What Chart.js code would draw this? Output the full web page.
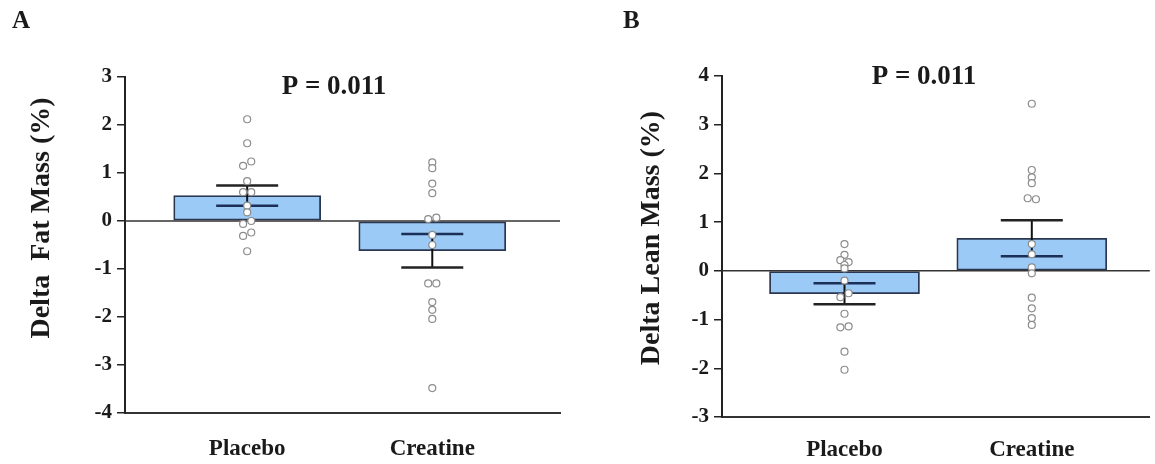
<!DOCTYPE html>
<html>
<head>
<meta charset="utf-8">
<script src="https://cdn.jsdelivr.net/npm/chart.js@4.4.1/dist/chart.umd.min.js"></script>
<style>
    body { margin: 0; background: #fff; }
    #wrap { position: relative; width: 1155px; height: 464px; }
    canvas { position: absolute; top: 0; }
</style>
</head>
<body>
<div id="wrap">
    <canvas id="chartA" width="577" height="464" style="left:0"></canvas>
    <canvas id="chartB" width="578" height="464" style="left:577px"></canvas>
</div>
<script>
var categories = ['Placebo', 'Creatine'];

// panel A: delta fat mass (%)
var fatMean = [0.53, -0.62];
var fatSem = [0.21, 0.35];
var fatPlacebo = [2.12, 1.62, 1.24, 1.15, 0.83, 0.60, 0.60, 0.32, 0.18, 0.00, -0.06, -0.24, -0.31, -0.63];
var fatPlaceboSpread = [0, 0, 0.022, -0.022, 0, -0.022, 0.022, 0, 0, 0.022, -0.022, 0.022, -0.022, 0];
var fatCreatine = [1.22, 1.10, 0.78, 0.58, 0.07, 0.04, -0.29, -0.50, -1.30, -1.30, -1.69, -1.85, -2.04, -3.48];
var fatCreatineSpread = [0, 0, 0, 0, 0.022, -0.022, 0, 0, -0.022, 0.022, 0, 0, 0, 0];

// panel B: delta lean mass (%)
var leanMean = [-0.47, 0.67];
var leanSem = [0.215, 0.37];
var leanPlacebo = [0.55, 0.33, 0.22, 0.18, 0.12, 0.05, -0.20, -0.46, -0.54, -0.88, -1.14, -1.16, -1.66, -2.03];
var leanPlaceboSpread = [0, 0, -0.022, 0.022, 0, 0, 0, 0.022, -0.022, 0, 0.022, -0.022, 0, 0];
var leanCreatine = [3.43, 2.07, 1.92, 1.80, 1.49, 1.47, 0.55, 0.34, 0.07, -0.05, -0.55, -0.77, -0.97, -1.11];
var leanCreatineSpread = [0, 0, 0, 0, -0.022, 0.022, 0, 0, 0, 0, 0, 0, 0, 0];

var SERIF = "'Liberation Serif', 'Times New Roman', serif";
var INK = '#1a1a1a';

function dots(values, spread, pos) {
    return values.map(function (v, i) { return { x: pos + spread[i], y: v }; });
}

var extras = {
    id: 'extras',
    afterDatasetDraw: function (chart, args, opts) {
        if (args.index !== 0) return;
        var ctx = chart.ctx, x = chart.scales.x, y = chart.scales.y, area = chart.chartArea;
        var y0 = y.getPixelForValue(0);
        ctx.save();
        // zero line
        ctx.strokeStyle = '#333';
        ctx.lineWidth = 1.5;
        ctx.beginPath();
        ctx.moveTo(area.left, y0);
        ctx.lineTo(area.right, y0);
        ctx.stroke();
        // mean +/- SE
        opts.mean.forEach(function (m, i) {
            var px = x.getPixelForValue(i + 1);
            var lo = m - opts.sem[i], hi = m + opts.sem[i];
            ctx.strokeStyle = '#111';
            ctx.lineWidth = 2;
            ctx.beginPath();
            ctx.moveTo(px, y.getPixelForValue(lo));
            ctx.lineTo(px, y.getPixelForValue(hi));
            ctx.stroke();
            [lo, hi].forEach(function (v) {
                var inside = (m >= 0) ? (v >= 0 && v <= m) : (v <= 0 && v >= m);
                ctx.strokeStyle = inside ? '#1b2f57' : '#222';
                ctx.lineWidth = 2.5;
                ctx.beginPath();
                ctx.moveTo(px - 31, y.getPixelForValue(v));
                ctx.lineTo(px + 31, y.getPixelForValue(v));
                ctx.stroke();
            });
        });
        ctx.restore();
    },
    afterDraw: function (chart, args, opts) {
        var ctx = chart.ctx, y = chart.scales.y;
        ctx.save();
        // short minor ticks at the half units
        ctx.strokeStyle = '#222';
        ctx.lineWidth = 1.5;
        y.ticks.forEach(function (t) {
            if (Number.isInteger(t.value)) return;
            var py = Math.round(y.getPixelForValue(t.value)) + 0.5;
            ctx.beginPath();
            ctx.moveTo(y.right - 5, py);
            ctx.lineTo(y.right, py);
            ctx.stroke();
        });
        ctx.fillStyle = INK;
        ctx.textBaseline = 'alphabetic';
        ctx.textAlign = 'left';
        ctx.font = 'bold 25px ' + SERIF;
        ctx.fillText(opts.letter, opts.letterX, 28);
        ctx.textAlign = 'center';
        ctx.font = 'bold 27px ' + SERIF;
        ctx.fillText('P = 0.011', opts.pX, opts.pY);
        ctx.translate(opts.titleX, opts.titleY);
        ctx.rotate(-Math.PI / 2);
        ctx.font = 'bold 28px ' + SERIF;
        ctx.textBaseline = 'middle';
        ctx.fillText(opts.title, 0, 0);
        ctx.restore();
    }
};

function buildPanel(canvasId, p) {
    var ctx = document.getElementById(canvasId);
    return new Chart(ctx, {
        type: 'bar',
        data: {
            datasets: [
                {
                    type: 'bar',
                    data: p.mean.map(function (m, i) { return { x: i + 1, y: m }; }),
                    backgroundColor: '#9ccaf6',
                    borderColor: '#2b3650',
                    borderWidth: 1.8,
                    borderSkipped: false,
                    barThickness: p.barWidth,
                    order: 2
                },
                {
                    type: 'scatter',
                    data: dots(p.placebo, p.placeboSpread, 1).concat(dots(p.creatine, p.creatineSpread, 2)),
                    pointRadius: 3.5,
                    pointBackgroundColor: '#fff',
                    pointBorderColor: '#8c8c8c',
                    pointBorderWidth: 1.2,
                    order: 1
                }
            ]
        },
        options: {
            responsive: false,
            animation: false,
            devicePixelRatio: 1,
            layout: { padding: { left: 0, top: p.top, right: p.right, bottom: 0 } },
            plugins: {
                legend: { display: false },
                tooltip: { enabled: false },
                extras: {
                    mean: p.mean, sem: p.sem, letter: p.letter, letterX: p.letterX,
                    pX: p.pX, pY: p.pY, title: p.title, titleX: p.titleX, titleY: p.titleY
                }
            },
            scales: {
                x: {
                    type: 'linear',
                    min: p.xMin,
                    max: p.xMax,
                    offset: false,
                    grid: { display: false, offset: false },
                    border: { display: true, color: '#333', width: 2 },
                    afterBuildTicks: function (axis) {
                        axis.ticks = categories.map(function (c, i) { return { value: i + 1 }; });
                    },
                    afterFit: function (axis) { axis.height = p.xAxisHeight; },
                    ticks: {
                        padding: p.xLabelPad,
                        color: INK,
                        font: { family: SERIF, size: 23, weight: 'bold' },
                        callback: function (v) { return categories[Math.round(v) - 1]; }
                    }
                },
                y: {
                    min: p.yMin,
                    max: p.yMax,
                    afterFit: function (axis) { axis.width = p.yAxisWidth; },
                    grid: {
                        drawOnChartArea: false, drawTicks: true, tickLength: 8, lineWidth: 1.5,
                        tickColor: function (c) { return Number.isInteger(c.tick.value) ? '#222' : 'rgba(0,0,0,0)'; }
                    },
                    border: { display: true, color: '#222', width: 2 },
                    ticks: {
                        stepSize: 0.5,
                        padding: 5,
                        color: INK,
                        font: { family: SERIF, size: 21, weight: 'bold' },
                        callback: function (v) { return Number.isInteger(v) ? String(v) : ''; }
                    }
                }
            }
        },
        plugins: [extras]
    });
}

buildPanel('chartA', {
    mean: fatMean, sem: fatSem,
    placebo: fatPlacebo, placeboSpread: fatPlaceboSpread,
    creatine: fatCreatine, creatineSpread: fatCreatineSpread,
    yMin: -4, yMax: 3, xMin: 0.34, xMax: 2.69,
    top: 77, right: 17, yAxisWidth: 125, xAxisHeight: 51, barWidth: 147, xLabelPad: 14,
    letter: 'A', letterX: 12, pX: 334, pY: 94,
    title: 'Delta  Fat Mass (%)', titleX: 42, titleY: 218
});

buildPanel('chartB', {
    mean: leanMean, sem: leanSem,
    placebo: leanPlacebo, placeboSpread: leanPlaceboSpread,
    creatine: leanCreatine, creatineSpread: leanCreatineSpread,
    yMin: -3, yMax: 4, xMin: 0.346, xMax: 2.63,
    top: 76, right: 3, yAxisWidth: 145, xAxisHeight: 47, barWidth: 150, xLabelPad: 11,
    letter: 'B', letterX: 46, pX: 347, pY: 84,
    title: 'Delta Lean Mass (%)', titleX: 75, titleY: 238
});
</script>
</body>
</html>
